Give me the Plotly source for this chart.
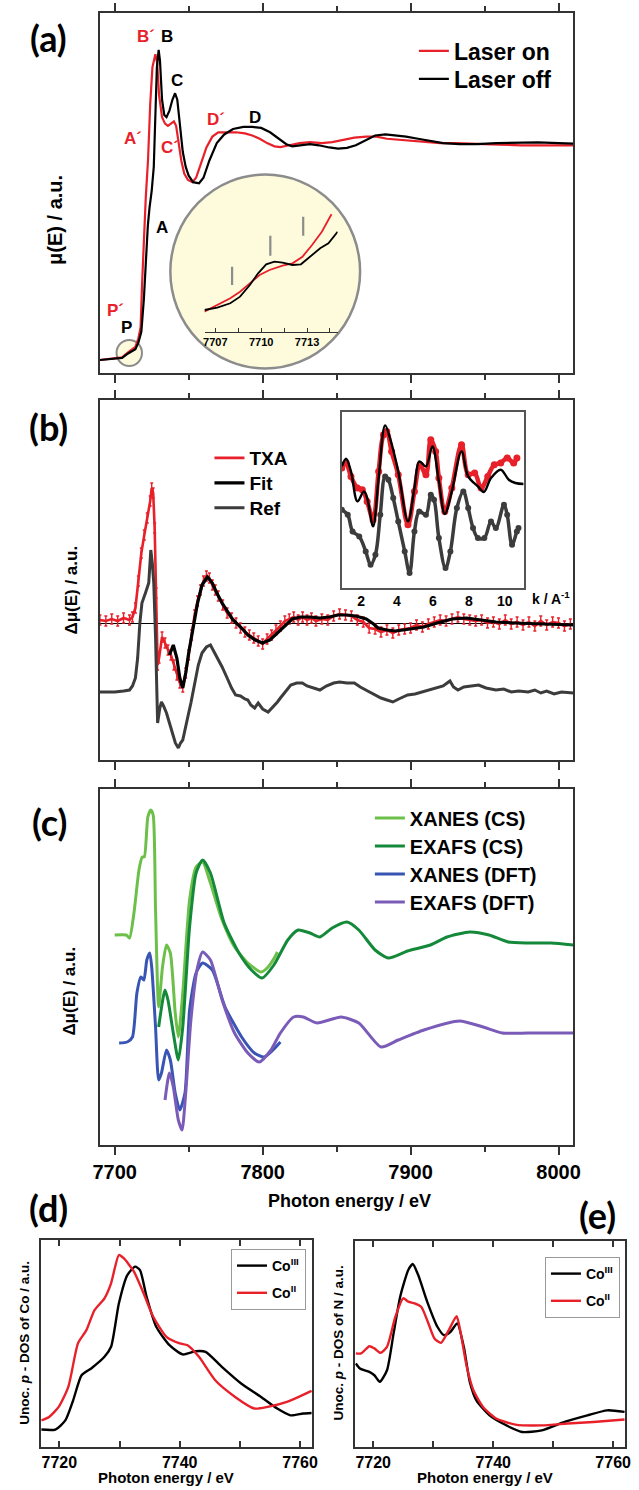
import plotly.graph_objects as go

W, H = 639, 1490


def fx(p):
    return p / W


def fy(p):
    return 1 - p / H


FONT = "Liberation Sans, Arial, sans-serif"
LABEL_FONT = "Lato, Liberation Sans, sans-serif"
RED = "#e8202a"
BLACK = "#000000"
FRAME = "#333333"

# ---------------- Panel (a): XANES, laser on / off ----------------
A_LASER_OFF = [
    (7690, 0.0), (7695, 0.003), (7700, 0.006), (7705, 0.01), (7709, 0.03),
    (7712, 0.04), (7714, 0.05), (7716, 0.08), (7718, 0.13), (7719.7, 0.28),
    (7721, 0.45), (7722.4, 0.62), (7723.5, 0.7), (7725, 0.78), (7726.4, 0.89),
    (7727.5, 1.1), (7728.5, 1.35), (7729.7, 1.43), (7730.6, 1.38), (7732, 1.2),
    (7733.5, 1.13), (7735, 1.12), (7737, 1.15), (7739, 1.2), (7740.8, 1.23),
    (7742.3, 1.2), (7744, 1.08), (7746, 0.96), (7748, 0.89), (7750, 0.85),
    (7753, 0.82), (7757, 0.815), (7760, 0.84), (7764, 0.92), (7769, 1.0),
    (7774, 1.04), (7780, 1.065), (7787, 1.075), (7793, 1.075), (7799, 1.07),
    (7805, 1.05), (7811, 1.02), (7816, 0.995), (7820, 0.985), (7826, 0.99),
    (7832, 0.995), (7838, 0.99), (7845, 0.98), (7851, 0.975), (7857, 0.978),
    (7863, 0.99), (7870, 1.015), (7876, 1.035), (7883, 1.04), (7890, 1.035),
    (7897, 1.03), (7905, 1.02), (7913, 1.01), (7922, 1.0), (7933, 0.995),
    (7945, 0.995), (7958, 1.0), (7972, 1.002), (7986, 1.003), (8000, 1.0),
    (8010, 0.998),
]
A_LASER_ON = [
    (7690, 0.0), (7695, 0.003), (7700, 0.006), (7705, 0.012), (7709, 0.035),
    (7712, 0.05), (7714, 0.06), (7716, 0.1), (7717.5, 0.15), (7718.5, 0.35),
    (7719.7, 0.59), (7721, 0.75), (7722.5, 0.92), (7724, 1.18), (7725.5, 1.35),
    (7727.5, 1.41), (7728.7, 1.37), (7730, 1.22), (7732, 1.12), (7734, 1.09),
    (7736, 1.08), (7738, 1.09), (7740, 1.1), (7741.5, 1.08), (7743, 1.0),
    (7745, 0.92), (7747, 0.86), (7749.5, 0.83), (7752.5, 0.82), (7755, 0.84),
    (7758, 0.9), (7762, 0.98), (7766, 1.03), (7770, 1.05), (7776, 1.05),
    (7782, 1.05), (7788, 1.045), (7793, 1.035), (7798, 1.02), (7803, 1.0),
    (7808, 0.985), (7812, 0.982), (7818, 0.99), (7825, 1.0), (7832, 1.005),
    (7840, 1.0), (7847, 1.005), (7855, 1.015), (7862, 1.025), (7870, 1.03),
    (7877, 1.03), (7884, 1.02), (7892, 1.015), (7900, 1.01), (7910, 1.005),
    (7920, 1.0), (7930, 1.0), (7945, 0.995), (7960, 0.993), (7975, 0.99),
    (7990, 0.992), (8000, 0.99), (8010, 0.99),
]
A_LABELS = [
    ("B´", 7721.0, 1.49, RED), ("B", 7735.6, 1.49, BLACK), ("C", 7742.2, 1.29, BLACK),
    ("A´", 7712.5, 1.02, RED), ("C´", 7737.6, 0.98, RED), ("D´", 7768.6, 1.11, RED),
    ("D", 7795.0, 1.12, BLACK), ("A", 7732.3, 0.61, BLACK), ("P´", 7700.6, 0.23, RED),
    ("P", 7707.8, 0.15, BLACK),
]

# inset of (a): pre-edge zoom
INSET_A_OFF = [
    (7706.28, 22.0), (7707.13, 24.3), (7707.98, 28.7), (7708.62, 35.3), (7709.26, 47.0),
    (7709.8, 58.7), (7710.33, 67.7), (7710.87, 70.3), (7711.4, 69.3), (7712.05, 67.0),
    (7712.6, 67.7), (7713.2, 75.3), (7713.86, 83.7), (7714.4, 88.7), (7715.0, 100.3),
]
INSET_A_ON = [
    (7706.28, 20.3), (7707.13, 27.0), (7707.98, 33.7), (7708.62, 40.3), (7709.26, 48.7),
    (7709.9, 57.0), (7710.55, 62.0), (7711.4, 66.3), (7712.05, 68.7), (7712.7, 75.3),
    (7713.33, 87.0), (7713.97, 100.3), (7714.6, 117.7),
]
INSET_A_BARS = [(7708.1, 47.0, 65.3), (7710.6, 76.3, 96.3), (7712.75, 96.3, 115.3)]
INSET_A_TICKS = [7707, 7710, 7713]

# ---------------- Panel (b): transient difference ----------------
B_TXA = [
    (7690, 0.03), (7694, 0.02), (7698, 0.04), (7702, 0.02), (7706, 0.05), (7710, 0.03),
    (7712, 0.06), (7714, 0.15), (7716, 0.42), (7718, 0.7), (7720, 0.88), (7722, 1.05),
    (7724, 1.22), (7725, 1.35), (7726, 1.3), (7727, 0.95), (7728, 0.3), (7729, -0.42),
    (7730, -0.35), (7732, -0.14), (7734, -0.2), (7736, -0.27), (7738, -0.32), (7740, -0.42),
    (7742, -0.52), (7744, -0.6), (7746, -0.64), (7748, -0.5), (7750, -0.32), (7752, -0.12),
    (7754, 0.08), (7756, 0.22), (7758, 0.33), (7760, 0.42), (7762, 0.47), (7764, 0.45),
    (7766, 0.38), (7768, 0.33), (7770, 0.27), (7773, 0.18), (7776, 0.1), (7779, 0.05),
    (7782, 0.0), (7785, -0.05), (7788, -0.09), (7791, -0.12), (7794, -0.15), (7797, -0.18),
    (7800, -0.21), (7803, -0.16), (7806, -0.12), (7809, -0.07), (7812, -0.03), (7815, 0.02),
    (7818, 0.04), (7821, 0.06), (7824, 0.03), (7827, 0.06), (7830, 0.03), (7833, 0.05),
    (7836, 0.02), (7840, 0.04), (7844, 0.03), (7848, 0.07), (7852, 0.09), (7856, 0.08),
    (7860, 0.07), (7864, 0.03), (7868, 0.01), (7872, -0.05), (7876, -0.06), (7880, -0.09),
    (7884, -0.07), (7888, -0.1), (7892, -0.07), (7896, -0.06), (7900, -0.05), (7904, -0.02),
    (7908, -0.04), (7912, -0.01), (7916, 0.01), (7920, 0.03), (7924, 0.02), (7928, 0.04),
    (7932, 0.06), (7936, 0.04), (7940, 0.03), (7944, 0.02), (7948, 0.03), (7952, 0.0),
    (7956, 0.01), (7960, -0.01), (7964, 0.03), (7968, -0.01), (7972, 0.01), (7976, -0.02),
    (7980, 0.01), (7984, -0.03), (7988, 0.02), (7992, -0.02), (7996, 0.01), (8000, 0.0),
    (8004, -0.03), (8008, -0.01),
]
B_FIT = [
    (7737, -0.32), (7739.6, -0.22), (7742, -0.35), (7744, -0.55), (7746, -0.65), (7748, -0.5),
    (7750, -0.3), (7753, -0.05), (7756, 0.2), (7759, 0.38), (7762.7, 0.46), (7766, 0.4),
    (7769, 0.3), (7772.6, 0.2), (7776, 0.12), (7780, 0.03), (7785.8, -0.05), (7790, -0.12),
    (7795, -0.17), (7800, -0.2), (7805, -0.17), (7810, -0.1), (7815, -0.02), (7820, 0.04),
    (7825.5, 0.06), (7832, 0.06), (7838.7, 0.05), (7845, 0.06), (7851, 0.08), (7857, 0.08),
    (7863, 0.07), (7870, 0.04), (7875, -0.01), (7878, -0.05), (7884, -0.07), (7889.6, -0.08),
    (7895, -0.07), (7900, -0.06), (7909, -0.04), (7918, 0.0), (7928, 0.04), (7938, 0.05),
    (7948, 0.03), (7957.7, 0.01), (7970, 0.0), (7985, -0.01), (8000, -0.02), (8010, -0.02),
]
B_REF = [
    (7690, -0.69), (7700, -0.69), (7706, -0.68), (7710, -0.67), (7712, -0.63), (7714, -0.55),
    (7715.5, -0.35), (7717, 0.0), (7718.4, 0.2), (7720, 0.28), (7721, 0.31), (7723, 0.4),
    (7724.4, 0.73), (7725.4, 0.6), (7726.4, 0.4), (7727.6, -0.14), (7729, -1.0), (7730.5, -0.85),
    (7731.6, -0.79), (7733, -0.83), (7735, -0.9), (7737, -1.0), (7739, -1.1), (7741, -1.2),
    (7743, -1.25), (7744.5, -1.2), (7746, -1.17), (7748, -1.05), (7750, -0.9), (7751.5, -0.8),
    (7754, -0.6), (7756.5, -0.42), (7759, -0.3), (7762, -0.24), (7764.7, -0.22), (7767, -0.28),
    (7770, -0.36), (7772.6, -0.44), (7776, -0.55), (7779, -0.65), (7781.7, -0.72), (7785, -0.73),
    (7788, -0.76), (7790, -0.77), (7792, -0.82), (7794.6, -0.85), (7797, -0.8), (7800, -0.86),
    (7803.7, -0.89), (7807, -0.84), (7810, -0.79), (7812, -0.75), (7815, -0.69), (7819, -0.62),
    (7823, -0.6), (7826.8, -0.6), (7830, -0.63), (7834, -0.65), (7838.7, -0.67), (7843, -0.63),
    (7848, -0.6), (7852, -0.59), (7857, -0.6), (7862, -0.6), (7866, -0.64), (7871, -0.68),
    (7876, -0.72), (7880, -0.75), (7884, -0.77), (7888, -0.79), (7892, -0.76), (7895, -0.74),
    (7898, -0.72), (7903, -0.71), (7908, -0.69), (7913, -0.67), (7918, -0.65), (7922, -0.63),
    (7926.6, -0.58), (7929, -0.64), (7932, -0.67), (7936, -0.64), (7941, -0.63), (7946, -0.62),
    (7951, -0.65), (7957.7, -0.67), (7963, -0.66), (7968, -0.69), (7973, -0.68), (7979.5, -0.69),
    (7984, -0.67), (7988, -0.7), (7992, -0.68), (7997, -0.71), (8002, -0.69), (8010, -0.7),
]

# inset of (b): k-space EXAFS
INSET_B_FIT = [
    (0.93, 121.3), (1.17, 129.0), (1.44, 116.3), (1.80, 86.3), (2.16, 96.3), (2.34, 89.7),
    (2.67, 61.3), (2.98, 109.7), (3.34, 162.3), (3.61, 149.7), (4.07, 116.3), (4.61, 66.3),
    (4.97, 99.7), (5.24, 126.3), (5.61, 121.3), (5.97, 141.3), (6.33, 106.3), (6.66, 73.7),
    (7.05, 96.3), (7.59, 136.3), (7.96, 111.3), (8.50, 101.3), (8.83, 95.7), (9.23, 109.7),
    (9.77, 118.0), (10.22, 108.0), (10.59, 104.7), (11.04, 103.7),
]
INSET_B_TXA = [
    (0.93, 119.7), (1.17, 124.7), (1.44, 111.3), (1.80, 99.7), (2.07, 98.0), (2.34, 86.3),
    (2.67, 68.0), (2.98, 116.3), (3.25, 153.0), (3.43, 156.3), (3.70, 136.3), (4.07, 113.0),
    (4.61, 63.0), (4.97, 96.3), (5.28, 123.0), (5.61, 113.0), (5.88, 148.0), (6.15, 136.3),
    (6.33, 109.7), (6.66, 76.3), (7.05, 99.7), (7.59, 143.0), (7.96, 113.0), (8.32, 114.7),
    (8.68, 99.7), (9.05, 111.3), (9.41, 123.0), (9.77, 124.7), (10.13, 129.7), (10.49, 124.7),
    (10.67, 129.7),
]
INSET_B_REF = [
    (0.93, 78.0), (1.26, 73.0), (1.53, 56.3), (1.90, 51.3), (2.26, 36.3), (2.53, 23.0),
    (2.80, 33.0), (3.07, 73.0), (3.34, 111.3), (3.52, 108.0), (3.79, 89.7), (4.07, 66.3),
    (4.43, 36.3), (4.70, 14.7), (4.97, 56.3), (5.24, 76.3), (5.61, 73.0), (5.88, 93.0),
    (6.06, 88.0), (6.33, 49.7), (6.70, 19.7), (6.97, 36.3), (7.33, 79.7), (7.69, 96.3),
    (7.96, 79.7), (8.23, 59.7), (8.50, 49.7), (8.86, 49.7), (9.23, 66.3), (9.50, 59.7),
    (9.95, 83.0), (10.13, 73.0), (10.40, 43.0), (10.67, 56.3), (10.76, 59.7),
]
INSET_B_TICKS = [2, 4, 6, 8, 10]

# ---------------- Panel (c): simulations ----------------
C_XANES_CS = [
    (7700, 2.10), (7707.8, 2.10), (7710, 2.07), (7713, 2.32), (7716.4, 2.75), (7718.6, 2.88),
    (7720, 2.88), (7722.4, 3.28), (7724.4, 3.35), (7726, 3.30), (7727.6, 2.35), (7729.7, 1.38),
    (7732.3, 1.78), (7735, 2.00), (7737.6, 1.92), (7740.9, 1.32), (7743, 1.08), (7746, 1.52),
    (7750.6, 2.45), (7755, 2.78), (7759.4, 2.83), (7764.7, 2.62), (7772.6, 2.25), (7781, 1.98),
    (7790, 1.82), (7799, 1.73), (7803.7, 1.78), (7809, 1.90), (7810, 1.93),
]
C_EXAFS_CS = [
    (7729.7, 1.18), (7734, 1.55), (7736, 1.45), (7739.6, 1.12), (7743, 0.85), (7746, 1.18),
    (7750.6, 2.18), (7755, 2.72), (7759.4, 2.85), (7764.7, 2.72), (7774, 2.22), (7784, 1.92),
    (7792.4, 1.75), (7799.7, 1.67), (7807.6, 1.80), (7817, 2.05), (7824, 2.15), (7832, 2.12),
    (7838.7, 2.08), (7847, 2.17), (7857, 2.23), (7865, 2.15), (7876, 1.95), (7885, 1.87),
    (7898, 1.94), (7913.4, 2.00), (7924.6, 2.08), (7940, 2.13), (7953, 2.10), (7966, 2.03),
    (7979.5, 2.02), (7995, 2.02), (8010, 2.00),
]
C_XANES_DFT = [
    (7703, 1.02), (7708.5, 1.03), (7712, 1.08), (7715, 1.52), (7717.7, 1.68), (7719.7, 1.65),
    (7721.7, 1.85), (7723.7, 1.92), (7725, 1.78), (7727.6, 1.18), (7729.7, 0.65), (7731.6, 0.72),
    (7735, 0.95), (7737.6, 0.85), (7740.9, 0.52), (7744, 0.35), (7747.5, 0.52), (7750.6, 1.35),
    (7755, 1.72), (7759.4, 1.82), (7766, 1.75), (7774.6, 1.38), (7785.8, 1.08), (7794.4, 0.92),
    (7801, 0.88), (7807, 0.95), (7812, 1.03),
]
C_EXAFS_DFT = [
    (7734, 0.45), (7737, 0.72), (7739.6, 0.58), (7743, 0.25), (7745.5, 0.15), (7748, 0.52),
    (7751.5, 1.25), (7756, 1.78), (7759.4, 1.93), (7764.7, 1.85), (7772.6, 1.45), (7781, 1.12),
    (7790, 0.92), (7797.7, 0.83), (7805.6, 0.95), (7812, 1.12), (7821, 1.28), (7827.5, 1.28),
    (7836.7, 1.22), (7853, 1.28), (7865, 1.22), (7880, 0.98), (7891.6, 1.05), (7909, 1.15),
    (7933, 1.24), (7949, 1.18), (7962, 1.12), (7979.5, 1.12), (8010, 1.12),
]
MAIN_TICKS = [7700, 7800, 7900, 8000]

# ---------------- Panels (d), (e): unoccupied p-DOS ----------------
D_CO3 = [
    (7717, 8.7), (7719.35, 8.7), (7721, 13.3), (7722.3, 23.3), (7723.7, 35.8), (7725.3, 39.2),
    (7727.5, 45.0), (7728.6, 50.0), (7729.9, 71.7), (7731.3, 85.8), (7732.6, 90.0), (7733.4, 88.3),
    (7734.5, 75.0), (7736.1, 60.0), (7738.3, 50.8), (7740.5, 46.2), (7742.6, 47.8), (7744.3, 47.5),
    (7747, 40.0), (7750.2, 31.7), (7753.5, 25.0), (7756.2, 19.2), (7758.4, 15.8), (7760.5, 16.7),
    (7761.9, 17.0),
]
D_CO2 = [
    (7717, 13.3), (7718.3, 15.0), (7719.9, 20.0), (7721.5, 30.0), (7723.1, 51.7), (7724.5, 58.3),
    (7725.85, 68.3), (7727.5, 74.2), (7728.6, 81.7), (7729.9, 95.8), (7730.7, 94.2), (7732.4, 87.5),
    (7734, 76.7), (7735.6, 65.0), (7737.8, 55.0), (7740, 51.7), (7741.3, 50.8), (7743.2, 45.0),
    (7745.9, 33.3), (7749.2, 25.0), (7752.4, 19.2), (7754.6, 20.0), (7757.8, 22.5), (7761.9, 28.0),
]
E_CO3 = [
    (7717.1, 41.7), (7717.8, 39.2), (7719.35, 37.5), (7720.2, 35.8), (7721.1, 32.5), (7722.3, 38.3),
    (7723.4, 56.7), (7724.5, 75.0), (7725.85, 88.3), (7726.6, 91.3), (7727.5, 85.8), (7729.1, 71.7),
    (7730.7, 60.0), (7731.8, 55.8), (7732.9, 57.5), (7734, 61.7), (7735.1, 50.0), (7736.1, 32.5),
    (7737.2, 23.3), (7739.4, 15.8), (7741.6, 11.7), (7744.8, 7.5), (7748.1, 8.3), (7751.9, 12.5),
    (7755.7, 15.8), (7759, 18.3), (7761.9, 17.5),
]
E_CO2 = [
    (7717.1, 46.7), (7718, 46.7), (7719.35, 50.3), (7720.2, 49.2), (7721.2, 47.0), (7722.3, 50.0),
    (7723.7, 65.0), (7725, 74.2), (7725.85, 72.5), (7726.9, 71.7), (7728, 70.0), (7729.1, 62.5),
    (7730.2, 54.2), (7731.3, 52.0), (7732.6, 58.3), (7733.9, 65.3), (7734.5, 58.3), (7735.6, 40.0),
    (7736.7, 28.3), (7738.3, 20.0), (7740.5, 14.2), (7743.7, 11.2), (7748.1, 10.8), (7752.4, 11.7),
    (7756.7, 12.5), (7761.9, 13.7),
]
DOS_TICKS = [7720, 7740, 7760]


def xs(pairs):
    return [p[0] for p in pairs]


def ys(pairs):
    return [p[1] for p in pairs]


fig = go.Figure()

# (a)
fig.add_trace(go.Scatter(x=xs(A_LASER_ON), y=ys(A_LASER_ON), mode="lines", name="Laser on",
                         line=dict(color=RED, width=2.2), xaxis="x", yaxis="y", legend="legend"))
fig.add_trace(go.Scatter(x=xs(A_LASER_OFF), y=ys(A_LASER_OFF), mode="lines", name="Laser off",
                         line=dict(color=BLACK, width=2.2), xaxis="x", yaxis="y", legend="legend6"))
# inset (a)
bx, by = [], []
for e, lo, hi in INSET_A_BARS:
    bx += [e, e, None]
    by += [lo, hi, None]
fig.add_trace(go.Scatter(x=bx, y=by, mode="lines", line=dict(color="#8c8c8c", width=2.2),
                         xaxis="x6", yaxis="y6", showlegend=False))
fig.add_trace(go.Scatter(x=xs(INSET_A_ON), y=ys(INSET_A_ON), mode="lines",
                         line=dict(color=RED, width=1.8), xaxis="x6", yaxis="y6", showlegend=False))
fig.add_trace(go.Scatter(x=xs(INSET_A_OFF), y=ys(INSET_A_OFF), mode="lines",
                         line=dict(color=BLACK, width=1.8), xaxis="x6", yaxis="y6", showlegend=False))

# (b)
fig.add_trace(go.Scatter(x=xs(B_TXA), y=ys(B_TXA), mode="lines", name="TXA",
                         line=dict(color=RED, width=2.6),
                         error_y=dict(type="constant", value=0.05, color=RED, thickness=1.4, width=1.5),
                         xaxis="x2", yaxis="y2", legend="legend2"))
fig.add_trace(go.Scatter(x=xs(B_FIT), y=ys(B_FIT), mode="lines", name="Fit",
                         line=dict(color=BLACK, width=3.2), xaxis="x2", yaxis="y2",
                         legend="legend7"))
fig.add_trace(go.Scatter(x=xs(B_REF), y=ys(B_REF), mode="lines", name="Ref",
                         line=dict(color="#3c3c3c", width=3), xaxis="x2", yaxis="y2",
                         legend="legend8"))
# inset (b)
fig.add_trace(go.Scatter(x=xs(INSET_B_REF), y=ys(INSET_B_REF), mode="lines+markers",
                         line=dict(color="#3c3c3c", width=3.5, shape="spline"),
                         marker=dict(color="#3c3c3c", size=6),
                         xaxis="x7", yaxis="y7", showlegend=False))
fig.add_trace(go.Scatter(x=xs(INSET_B_TXA), y=ys(INSET_B_TXA), mode="lines+markers",
                         line=dict(color=RED, width=4.5, shape="spline"),
                         marker=dict(color=RED, size=7),
                         xaxis="x7", yaxis="y7", showlegend=False))
fig.add_trace(go.Scatter(x=xs(INSET_B_FIT), y=ys(INSET_B_FIT), mode="lines",
                         line=dict(color=BLACK, width=2.4, shape="spline"),
                         xaxis="x7", yaxis="y7", showlegend=False))

# (c)
C_SERIES = [
    ("XANES (CS)", C_XANES_CS, "#6cc04a", "legend3"),
    ("EXAFS (CS)", C_EXAFS_CS, "#15893a", "legend9"),
    ("XANES (DFT)", C_XANES_DFT, "#3955b3", "legend10"),
    ("EXAFS (DFT)", C_EXAFS_DFT, "#7a5cb8", "legend11"),
]
for nm, data, col, lg in C_SERIES:
    fig.add_trace(go.Scatter(x=xs(data), y=ys(data), mode="lines", name=nm,
                             line=dict(color=col, width=3, shape="spline", smoothing=0.6),
                             xaxis="x3", yaxis="y3", legend=lg))

# (d)
fig.add_trace(go.Scatter(x=xs(D_CO3), y=ys(D_CO3), mode="lines", name="Co<sup>III</sup>",
                         line=dict(color=BLACK, width=2.4, shape="spline", smoothing=0.6),
                         xaxis="x4", yaxis="y4", legend="legend4", legendgroup="d1"))
fig.add_trace(go.Scatter(x=xs(D_CO2), y=ys(D_CO2), mode="lines", name="Co<sup>II</sup>",
                         line=dict(color=RED, width=2.4, shape="spline", smoothing=0.6),
                         xaxis="x4", yaxis="y4", legend="legend4", legendgroup="d2"))
# (e)
fig.add_trace(go.Scatter(x=xs(E_CO3), y=ys(E_CO3), mode="lines", name="Co<sup>III</sup>",
                         line=dict(color=BLACK, width=2.4, shape="spline", smoothing=0.6),
                         xaxis="x5", yaxis="y5", legend="legend5", legendgroup="e1"))
fig.add_trace(go.Scatter(x=xs(E_CO2), y=ys(E_CO2), mode="lines", name="Co<sup>II</sup>",
                         line=dict(color=RED, width=2.4, shape="spline", smoothing=0.6),
                         xaxis="x5", yaxis="y5", legend="legend5", legendgroup="e2"))


def main_x(anchor, labels):
    return dict(domain=[fx(95), fx(579)], range=[7690, 8010], anchor=anchor,
                showline=True, mirror="ticks", linecolor=FRAME, linewidth=1.5,
                ticks="outside", ticklen=8, tickwidth=1.5, tickcolor=FRAME,
                tickmode="array", tickvals=MAIN_TICKS,
                minor=dict(ticks="outside", ticklen=5, tickwidth=1.5, tickcolor=FRAME,
                           tickmode="linear", tick0=7750, dtick=100),
                showgrid=False, zeroline=False, showticklabels=labels,
                tickfont=dict(family=FONT, size=20, color="black", weight="bold"))


def frame_y(anchor, lo, hi, rng, zero=False):
    return dict(domain=[fy(lo), fy(hi)], range=rng, anchor=anchor, showline=True, mirror=True,
                linecolor=FRAME, linewidth=1.5, ticks="", showticklabels=False,
                showgrid=False, zeroline=zero, zerolinecolor="black", zerolinewidth=1)


def dos_x(anchor, x0, x1):
    return dict(domain=[fx(x0), fx(x1)], range=[7717, 7762], anchor=anchor,
                showline=True, mirror="ticks", linecolor=FRAME, linewidth=1.5,
                ticks="inside", ticklen=6, tickwidth=1.5, tickcolor=FRAME,
                tickmode="array", tickvals=DOS_TICKS,
                minor=dict(ticks="inside", ticklen=6, tickwidth=1.5, tickcolor=FRAME,
                           tickmode="linear", tick0=7730, dtick=20),
                showgrid=False, zeroline=False,
                tickfont=dict(family=FONT, size=16, color="black", weight="bold"))


def legend_row(x, y, size):
    # one legend entry, vertically centred on pixel row y; text starts ~40 px right of x
    return dict(x=fx(x), y=fy(y), xanchor="left", yanchor="middle", bgcolor="rgba(0,0,0,0)",
                font=dict(family=FONT, size=size, color="black", weight="bold"),
                itemwidth=30, borderwidth=0)


def legend_box(x, y, size, gap):
    return dict(x=fx(x), y=fy(y), xanchor="left", yanchor="top", bgcolor="white",
                bordercolor="#999999", borderwidth=1,
                font=dict(family=FONT, size=size, color="black", weight="bold"),
                tracegroupgap=gap, itemwidth=30)


fig.update_layout(
    width=W, height=H, margin=dict(l=0, r=0, t=0, b=0),
    paper_bgcolor="white", plot_bgcolor="rgba(0,0,0,0)",
    font=dict(family=FONT, color="black"),
    xaxis=main_x("y", False),
    yaxis=frame_y("x", 373, 13, [-0.06, 1.6]),
    xaxis2=main_x("y2", False),
    yaxis2=frame_y("x2", 760, 400, [-1.37, 2.23], zero=True),
    xaxis3=main_x("y3", True),
    yaxis3=frame_y("x3", 1145, 789, [0.0, 3.56]),
    xaxis4=dos_x("y4", 35, 312),
    yaxis4=frame_y("x4", 1447, 1240, [0, 103.3]),
    xaxis5=dos_x("y5", 356, 632),
    yaxis5=frame_y("x5", 1447, 1241, [0, 102.8]),
    xaxis6=dict(domain=[fx(202), fx(338)], range=[7706.3, 7715.0], anchor="y6",
                showline=True, mirror=False, linecolor=FRAME, linewidth=1.2,
                ticks="inside", ticklen=4, tickwidth=1, tickcolor=FRAME,
                tickmode="array", tickvals=INSET_A_TICKS,
                minor=dict(ticks="inside", ticklen=4, tickwidth=1, tickcolor=FRAME,
                           tickmode="linear", tick0=7707, dtick=1.5),
                showgrid=False, zeroline=False,
                tickfont=dict(family=FONT, size=11, color="black", weight="bold")),
    yaxis6=dict(domain=[fy(332), fy(200)], range=[0, 132], anchor="x6", visible=False),
    xaxis7=dict(domain=[fx(342.3), fx(528.3)], range=[0.93, 11.05], anchor="y7",
                showline=True, mirror=True, linecolor="#555555", linewidth=1.5, ticks="",
                tickmode="array", tickvals=INSET_B_TICKS, showgrid=False, zeroline=False,
                tickfont=dict(family=FONT, size=14, color="black", weight="bold")),
    yaxis7=dict(domain=[fy(587.7), fy(411.7)], range=[0, 176], anchor="x7",
                showline=True, mirror=True, linecolor="#555555", linewidth=1.5, ticks="",
                showticklabels=False, showgrid=False, zeroline=False),
    legend=legend_row(416, 51, 23),
    legend6=legend_row(416, 79, 23),
    legend2=legend_row(207, 458, 19),
    legend7=legend_row(207, 483, 19),
    legend8=legend_row(207, 508, 19),
    legend3=legend_row(371, 818, 20),
    legend9=legend_row(371, 846, 20),
    legend10=legend_row(371, 874, 20),
    legend11=legend_row(371, 902, 20),
    legend4=legend_box(229, 1249, 14, 6),
    legend5=legend_box(550, 1257, 14, 6),
)

shapes = [
    dict(type="circle", xref="paper", yref="paper", x0=fx(167), x1=fx(361), y0=fy(368.5), y1=fy(174.5),
         fillcolor="#fdfbdc", line=dict(color="#8c8c8c", width=2.5), layer="below"),
    dict(type="circle", xref="paper", yref="paper", x0=fx(112), x1=fx(138), y0=fy(366), y1=fy(340),
         fillcolor="#fdfbdc", line=dict(color="#8c8c8c", width=2), layer="below"),
]
fig.update_layout(shapes=shapes)

ann = []
for txt, e, m, col in A_LABELS:
    ann.append(dict(text=txt, x=e, y=m, xref="x", yref="y", showarrow=False,
                    font=dict(family=FONT, size=17, color=col, weight="bold")))


def paper_text(txt, x, y, size, angle=0, family=FONT):
    return dict(text=txt, x=fx(x), y=fy(y), xref="paper", yref="paper", showarrow=False,
                xanchor="center", yanchor="middle", textangle=angle,
                font=dict(family=family, size=size, color="black", weight="bold"))


for lab, x, y in [("(a)", 42, 38), ("(b)", 42, 427), ("(c)", 43, 822), ("(d)", 42, 1208), ("(e)", 604, 1215)]:
    ann.append(paper_text(lab, x, y, 36, family=LABEL_FONT))

ann += [
    paper_text("μ(E) / a.u.", 49, 220, 20, angle=-90),
    paper_text("Δμ(E) / a.u.", 65, 590, 17, angle=-90),
    paper_text("Δμ(E) / a.u.", 63, 991, 17, angle=-90),
    paper_text("Unoc. <i>p</i> - DOS of Co / a.u.", 17, 1343, 13.5, angle=-90),
    paper_text("Unoc. <i>p</i> - DOS of N / a.u.", 338, 1343, 13.5, angle=-90),
    paper_text("Photon energy / eV", 350, 1201, 18),
    paper_text("Photon energy / eV", 163, 1477, 15),
    paper_text("Photon energy / eV", 489, 1477, 15),
    paper_text("k / A<sup>-1</sup>", 556, 598, 14),
]
fig.update_layout(annotations=ann)

fig.write_html("out.html", config={"displayModeBar": False},
               post_script="document.body.style.margin='0px';")
